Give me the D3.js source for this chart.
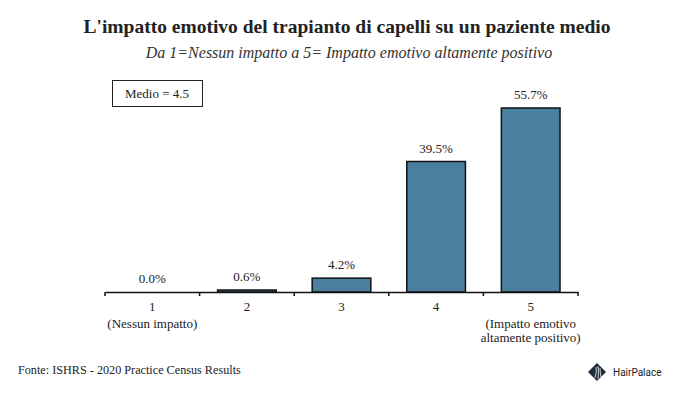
<!DOCTYPE html>
<html lang="it">
<head>
  <meta charset="UTF-8">
  <title>L'impatto emotivo del trapianto di capelli</title>
  <script src="https://d3js.org/d3.v7.min.js"></script>
  <style>
    body { margin: 0; background: #fff; }
    svg { display: block; }
    svg text { font-family: "Liberation Serif", serif; }
    svg text.logo-text { font-family: Roboto, sans-serif; }
  </style>
</head>
<body>
  <svg width="673" height="395"></svg>
  <script>
    // data
    const categories = ["1", "2", "3", "4", "5"];
    const values = [0.0, 0.6, 4.2, 39.5, 55.7];
    const subLabels = [["(Nessun impatto)"], [], [], [], ["(Impatto emotivo", "altamente positivo)"]];

    const svg = d3.select("svg");
    const margin = { left: 105, right: 95, top: 108, bottom: 103 };
    const width = 673, height = 395;
    const axisY = height - margin.bottom; // 292

    const x = d3.scaleBand()
      .domain(categories)
      .range([margin.left, width - margin.right])
      .paddingInner(0.38)
      .paddingOuter(0.19);

    const y = d3.scaleLinear().domain([0, 55.7]).range([axisY, margin.top]);

    // title
    svg.append("text")
      .attr("x", 347).attr("y", 33)
      .attr("text-anchor", "middle")
      .attr("font-size", 19.5).attr("font-weight", "bold")
      .attr("fill", "#222")
      .text("L'impatto emotivo del trapianto di capelli su un paziente medio");

    svg.append("text")
      .attr("x", 349).attr("y", 58)
      .attr("text-anchor", "middle")
      .attr("font-size", 16).attr("font-style", "italic")
      .attr("fill", "#333")
      .text("Da 1=Nessun impatto a 5= Impatto emotivo altamente positivo");

    // average box
    svg.append("rect")
      .attr("x", 112.5).attr("y", 80.5).attr("width", 90).attr("height", 26)
      .attr("fill", "#fff").attr("stroke", "#222").attr("stroke-width", 1);
    svg.append("text")
      .attr("x", 157).attr("y", 98)
      .attr("text-anchor", "middle")
      .attr("font-size", 13).attr("fill", "#222")
      .text("Medio  = 4.5");

    // bars
    svg.selectAll(".bar")
      .data(values)
      .enter().append("rect")
      .attr("class", "bar")
      .attr("x", (d, i) => x(categories[i]))
      .attr("width", x.bandwidth())
      .attr("y", d => y(d))
      .attr("height", d => axisY - y(d))
      .attr("fill", "#4a809e")
      .attr("stroke", "#111")
      .attr("stroke-width", d => d > 0 ? 1.5 : 0);

    // value labels
    svg.selectAll(".val")
      .data(values)
      .enter().append("text")
      .attr("class", "val")
      .attr("x", (d, i) => x(categories[i]) + x.bandwidth() / 2)
      .attr("y", d => y(d) - 9)
      .attr("text-anchor", "middle")
      .attr("font-size", 13).attr("fill", "#222")
      .text(d => d.toFixed(1) + "%");

    // x axis
    const axis = svg.append("g")
      .attr("transform", `translate(0,${axisY})`)
      .call(d3.axisBottom(x).tickSize(0).tickPadding(10));
    axis.attr("font-family", null);
    axis.select(".domain").attr("stroke", "#111").attr("stroke-width", 1.5);
    axis.selectAll(".tick text")
      .attr("font-size", 13).attr("fill", "#222");

    // category boundary ticks
    const step = x.step();
    const bounds = d3.range(categories.length + 1).map(i => margin.left + i * step);
    svg.selectAll(".btick")
      .data(bounds)
      .enter().append("line")
      .attr("x1", d => d).attr("x2", d => d)
      .attr("y1", axisY).attr("y2", axisY + 4)
      .attr("stroke", "#111").attr("stroke-width", 1.5);

    // sub labels
    subLabels.forEach((lines, i) => {
      lines.forEach((t, j) => {
        svg.append("text")
          .attr("x", x(categories[i]) + x.bandwidth() / 2)
          .attr("y", axisY + 36 + j * 14)
          .attr("text-anchor", "middle")
          .attr("font-size", 13).attr("fill", "#222")
          .text(t);
      });
    });

    // source
    svg.append("text")
      .attr("x", 18).attr("y", 374)
      .attr("font-size", 12.2).attr("fill", "#222")
      .text("Fonte: ISHRS - 2020 Practice Census Results");

    // logo
    const logo = svg.append("g").attr("transform", "translate(597,372)");
    logo.append("path")
      .attr("d", "M-9,0 L0,-9 L9,0 L0,9 Z")
      .attr("fill", "#1e2b3c");
    logo.append("path")
      .attr("d", "M-2,6 Q0,0 -1,-5 M1,7 Q2,0 1,-6 M4,5 Q3,0 3,-4")
      .attr("fill", "none").attr("stroke", "#fff").attr("stroke-width", 0.8);
    svg.append("text")
      .attr("class", "logo-text")
      .attr("x", 613).attr("y", 376)
      .attr("font-size", 10).attr("fill", "#222")
      .text("HairPalace");
  </script>
</body>
</html>
